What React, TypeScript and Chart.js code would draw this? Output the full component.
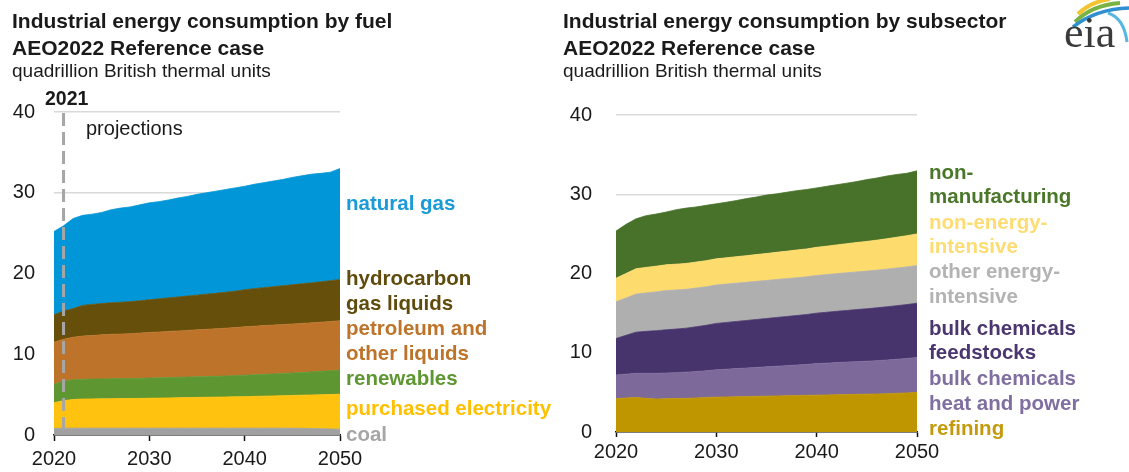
import React, { useEffect, useRef } from "react";
import { Chart, registerables } from "chart.js";

Chart.register(...registerables);

const FONT = '"Liberation Sans", Arial, Helvetica, sans-serif';

// ---------- data ----------
const years = [
  2020, 2021, 2022, 2023, 2024, 2025, 2026, 2027, 2028, 2029, 2030,
  2031, 2032, 2033, 2034, 2035, 2036, 2037, 2038, 2039, 2040,
  2041, 2042, 2043, 2044, 2045, 2046, 2047, 2048, 2049, 2050,
];

// Fuel (layer values, quadrillion Btu), bottom to top
const coal = [0.8, 0.85, 0.85, 0.85, 0.85, 0.85, 0.85, 0.85, 0.85, 0.85, 0.85, 0.85, 0.85, 0.85, 0.85, 0.85, 0.85, 0.85, 0.85, 0.85, 0.85, 0.85, 0.85, 0.85, 0.85, 0.84, 0.83, 0.8, 0.78, 0.75, 0.72];
const purchasedElectricity = [3.2, 3.4, 3.55, 3.6, 3.62, 3.64, 3.65, 3.66, 3.67, 3.68, 3.7, 3.72, 3.74, 3.76, 3.78, 3.8, 3.82, 3.84, 3.86, 3.88, 3.9, 3.93, 3.96, 3.99, 4.02, 4.06, 4.1, 4.16, 4.2, 4.26, 4.33];
const renewables = [2.3, 2.4, 2.45, 2.45, 2.45, 2.46, 2.47, 2.47, 2.48, 2.49, 2.5, 2.51, 2.52, 2.53, 2.54, 2.55, 2.57, 2.58, 2.6, 2.62, 2.65, 2.67, 2.7, 2.72, 2.75, 2.78, 2.81, 2.85, 2.9, 2.95, 3.0];
const petroleum = [5.2, 5.2, 5.25, 5.35, 5.4, 5.45, 5.5, 5.52, 5.55, 5.6, 5.65, 5.68, 5.72, 5.75, 5.78, 5.82, 5.85, 5.88, 5.92, 5.95, 6.0, 6.02, 6.04, 6.05, 6.06, 6.07, 6.08, 6.08, 6.09, 6.1, 6.1];
const hgl = [3.4, 3.5, 3.55, 3.8, 3.85, 3.88, 3.9, 3.93, 3.96, 4.0, 4.05, 4.1, 4.15, 4.2, 4.25, 4.3, 4.35, 4.4, 4.45, 4.5, 4.6, 4.65, 4.7, 4.75, 4.8, 4.85, 4.9, 4.95, 5.0, 5.05, 5.1];
const naturalGas = [10.3, 10.55, 11.15, 11.15, 11.18, 11.27, 11.53, 11.67, 11.74, 11.88, 12.0, 12.04, 12.12, 12.26, 12.35, 12.48, 12.56, 12.65, 12.72, 12.8, 12.8, 12.93, 13.0, 13.09, 13.17, 13.3, 13.38, 13.46, 13.43, 13.44, 13.75];

// Subsector (layer values), bottom to top
const refining = [4.2, 4.3, 4.35, 4.25, 4.15, 4.2, 4.22, 4.25, 4.3, 4.35, 4.4, 4.42, 4.45, 4.47, 4.5, 4.52, 4.55, 4.57, 4.6, 4.62, 4.65, 4.67, 4.7, 4.72, 4.75, 4.77, 4.8, 4.83, 4.88, 4.93, 5.0];
const heatAndPower = [3.0, 3.0, 3.05, 3.15, 3.25, 3.25, 3.27, 3.3, 3.33, 3.37, 3.45, 3.5, 3.55, 3.6, 3.65, 3.7, 3.75, 3.8, 3.85, 3.9, 3.98, 4.02, 4.06, 4.1, 4.13, 4.16, 4.2, 4.25, 4.3, 4.35, 4.4];
const feedstocks = [4.6, 4.9, 5.2, 5.3, 5.38, 5.45, 5.5, 5.55, 5.65, 5.75, 5.85, 5.9, 5.95, 6.0, 6.05, 6.1, 6.15, 6.2, 6.25, 6.3, 6.37, 6.42, 6.47, 6.52, 6.57, 6.62, 6.67, 6.72, 6.76, 6.8, 6.85];
const otherEnergyIntensive = [4.65, 4.7, 4.8, 4.85, 4.9, 4.95, 4.93, 4.9, 4.88, 4.86, 4.85, 4.84, 4.83, 4.82, 4.81, 4.8, 4.79, 4.78, 4.77, 4.76, 4.75, 4.75, 4.75, 4.75, 4.75, 4.75, 4.75, 4.75, 4.75, 4.75, 4.75];
const nonEnergyIntensive = [2.95, 3.1, 3.2, 3.22, 3.24, 3.25, 3.26, 3.27, 3.28, 3.29, 3.3, 3.32, 3.34, 3.36, 3.38, 3.4, 3.43, 3.46, 3.49, 3.52, 3.55, 3.59, 3.63, 3.67, 3.71, 3.75, 3.79, 3.84, 3.89, 3.94, 4.0];
const nonManufacturing = [5.95, 6.2, 6.3, 6.53, 6.58, 6.65, 6.87, 6.98, 6.96, 6.98, 6.95, 7.02, 7.08, 7.2, 7.26, 7.38, 7.38, 7.44, 7.49, 7.5, 7.5, 7.55, 7.59, 7.64, 7.69, 7.8, 7.84, 7.91, 7.92, 7.88, 7.95];

const yTicks = [0, 10, 20, 30, 40];
const xTicks = [2020, 2030, 2040, 2050];
const projectionYear = 2021;

// ---------- series definitions ----------
type Series = { name: string[]; values: number[]; fill: string; text: string; labelY: number[] };

const fuelSeries: Series[] = [
  { name: ["coal"], values: coal, fill: "#a0a0a0", text: "#a6a6a6", labelY: [434] },
  { name: ["purchased electricity"], values: purchasedElectricity, fill: "#ffc20e", text: "#ffc000", labelY: [408] },
  { name: ["renewables"], values: renewables, fill: "#5e9732", text: "#5e9732", labelY: [378] },
  { name: ["petroleum and", "other liquids"], values: petroleum, fill: "#bd732a", text: "#bd732a", labelY: [328, 353] },
  { name: ["hydrocarbon", "gas liquids"], values: hgl, fill: "#654f0a", text: "#5f4b0b", labelY: [278, 303] },
  { name: ["natural gas"], values: naturalGas, fill: "#0096d7", text: "#1a9ad6", labelY: [203] },
];

const subsectorSeries: Series[] = [
  { name: ["refining"], values: refining, fill: "#c09600", text: "#c49a0c", labelY: [428] },
  { name: ["bulk chemicals", "heat and power"], values: heatAndPower, fill: "#7e6a9a", text: "#7f6e9f", labelY: [378, 403] },
  { name: ["bulk chemicals", "feedstocks"], values: feedstocks, fill: "#48346d", text: "#4b3670", labelY: [328, 352] },
  { name: ["other energy-", "intensive"], values: otherEnergyIntensive, fill: "#afafaf", text: "#b3b3b3", labelY: [271, 296] },
  { name: ["non-energy-", "intensive"], values: nonEnergyIntensive, fill: "#fedb6d", text: "#fddc72", labelY: [222, 246] },
  { name: ["non-", "manufacturing"], values: nonManufacturing, fill: "#48722a", text: "#4a7729", labelY: [172, 196] },
];

type Layout = {
  width: number;
  yWidth: number;
  xHeight: number;
  padTop: number;
  padRight: number;
  yLabelPad: number;
  xLabelPad: number;
  tickLen: number;
  labelGap: number;
  dashed: boolean;
};

function buildChart(canvas: HTMLCanvasElement, series: Series[], L: Layout) {
  const datasets = series.map((s, i) => ({
    label: s.name.join(" "),
    data: years.map((yr, k) => ({ x: yr, y: s.values[k] })),
    backgroundColor: s.fill,
    borderColor: s.fill,
    borderWidth: 0.8,
    pointRadius: 0,
    tension: 0,
    fill: i === 0 ? "origin" : "-1",
  }));

  const labelPlugin = {
    id: "sideLabels",
    afterDraw(chart: any) {
      const ctx = chart.ctx;
      const x = chart.chartArea.right + L.labelGap;
      ctx.save();
      ctx.font = `bold 20.5px ${FONT}`;
      ctx.textAlign = "left";
      ctx.textBaseline = "middle";
      series.forEach((s) => {
        ctx.fillStyle = s.text;
        s.name.forEach((line, j) => ctx.fillText(line, x, s.labelY[j] + 1));
      });
      ctx.restore();
    },
  };

  const dashPlugin = {
    id: "projLine",
    afterDatasetsDraw(chart: any) {
      if (!L.dashed) return;
      const ctx = chart.ctx;
      const xs = chart.scales.x;
      const ys = chart.scales.y;
      const px = xs.getPixelForValue(projectionYear);
      ctx.save();
      ctx.strokeStyle = "#a6a6a6";
      ctx.lineWidth = 3;
      ctx.setLineDash([13, 6]);
      ctx.beginPath();
      ctx.moveTo(px, ys.getPixelForValue(40) + 1);
      ctx.lineTo(px, ys.getPixelForValue(0));
      ctx.stroke();
      ctx.restore();
    },
  };

  return new Chart(canvas, {
    type: "line",
    data: { datasets: datasets as any },
    options: {
      animation: false,
      responsive: false,
      maintainAspectRatio: false,
      layout: { padding: { top: L.padTop, right: L.padRight, left: 0, bottom: 0 } },
      plugins: { legend: { display: false }, tooltip: { enabled: false } },
      elements: { line: { borderJoinStyle: "round" } },
      scales: {
        x: {
          type: "linear",
          min: xTicks[0],
          max: xTicks[xTicks.length - 1],
          afterBuildTicks: (scale: any) => {
            scale.ticks = xTicks.map((v) => ({ value: v }));
          },
          afterFit: (scale: any) => {
            scale.height = L.xHeight;
          },
          ticks: {
            autoSkip: false,
            maxRotation: 0,
            padding: L.xLabelPad,
            color: "#1a1a1a",
            font: { family: FONT, size: 20 },
            callback: (v: any) => String(v),
          },
          grid: {
            drawOnChartArea: false,
            drawTicks: true,
            tickLength: L.tickLen,
            tickColor: "#111",
            tickWidth: 1.5,
          },
          border: { display: true, color: "#111", width: 1.5 },
        },
        y: {
          stacked: true,
          min: 0,
          max: 40,
          afterBuildTicks: (scale: any) => {
            scale.ticks = yTicks.map((v) => ({ value: v }));
          },
          afterFit: (scale: any) => {
            scale.width = L.yWidth;
          },
          ticks: {
            padding: L.yLabelPad,
            color: "#1a1a1a",
            font: { family: FONT, size: 20 },
            callback: (v: any) => String(v),
          },
          grid: { color: "#d9d9d9", lineWidth: 1.5, drawTicks: false, tickLength: 0 },
          border: { display: false },
        },
      },
    } as any,
    plugins: [labelPlugin, dashPlugin],
  });
}

const leftLayout: Layout = {
  width: 560, yWidth: 54, xHeight: 37, padTop: 112, padRight: 220,
  yLabelPad: 19, xLabelPad: 6, tickLen: 6, labelGap: 6, dashed: true,
};
const rightLayout: Layout = {
  width: 569, yWidth: 56, xHeight: 40, padTop: 115, padRight: 212,
  yLabelPad: 24, xLabelPad: 3, tickLen: 5, labelGap: 12, dashed: false,
};

const titleStyle = (left: number, top: number, size: number, bold: boolean): React.CSSProperties => ({
  position: "absolute",
  left,
  top,
  fontFamily: FONT,
  fontSize: size,
  fontWeight: bold ? 700 : 400,
  lineHeight: 1,
  color: "#1a1a1a",
  whiteSpace: "nowrap",
});

export default function App() {
  const leftRef = useRef<HTMLCanvasElement>(null);
  const rightRef = useRef<HTMLCanvasElement>(null);

  useEffect(() => {
    const a = buildChart(leftRef.current!, fuelSeries, leftLayout);
    const b = buildChart(rightRef.current!, subsectorSeries, rightLayout);
    return () => {
      a.destroy();
      b.destroy();
    };
  }, []);

  return (
    <div style={{ position: "absolute", left: 0, top: 0, width: 1129, height: 472, background: "#fff", overflow: "hidden" }}>
      <canvas ref={leftRef} width={560} height={472} style={{ position: "absolute", left: 0, top: 0, width: 560, height: 472 }} />
      <canvas ref={rightRef} width={569} height={472} style={{ position: "absolute", left: 560, top: 0, width: 569, height: 472 }} />

      <div style={titleStyle(12, 10, 21, true)}>Industrial energy consumption by fuel</div>
      <div style={titleStyle(12, 37, 21, true)}>AEO2022 Reference case</div>
      <div style={titleStyle(12, 61, 19, false)}>quadrillion British thermal units</div>

      <div style={titleStyle(563, 10, 21, true)}>Industrial energy consumption by subsector</div>
      <div style={titleStyle(563, 37, 21, true)}>AEO2022 Reference case</div>
      <div style={titleStyle(563, 61, 19, false)}>quadrillion British thermal units</div>

      <div style={titleStyle(45, 89, 19.5, true)}>2021</div>
      <div style={titleStyle(86, 118, 20, false)}>projections</div>

      <svg style={{ position: "absolute", left: 1056, top: 0 }} width={73} height={60}>
        <path d="M22 14 Q34 2 54 -1" stroke="#f4c430" strokeWidth={4} fill="none" />
        <path d="M19 22 Q36 5 64 3" stroke="#79b443" strokeWidth={4} fill="none" />
        <path d="M17 27 Q40 9 73 8" stroke="#2f8fd1" strokeWidth={3.5} fill="none" />
        <path d="M52 13 Q68 18 71 42" stroke="#58b6e3" strokeWidth={3} fill="none" />
        <text x={8} y={47} fontFamily='"Liberation Serif", "DejaVu Serif", serif' fontSize={44} fill="#3a3a3a">eia</text>
      </svg>
    </div>
  );
}
